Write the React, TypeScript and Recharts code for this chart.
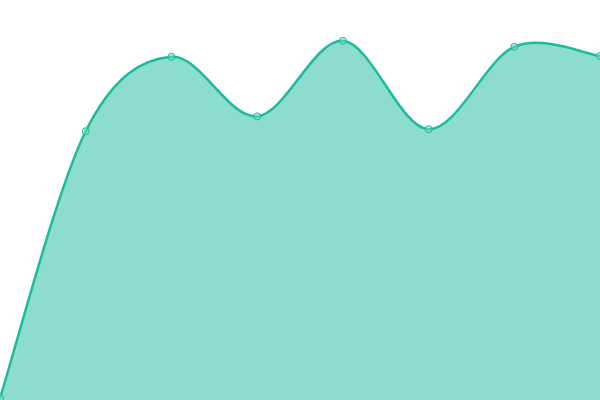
import { AreaChart, Area, XAxis, YAxis } from "recharts";

const categories = ["A", "B", "C", "D", "E", "F", "G", "H"];
const values = [0.5, 67.2, 85.8, 70.9, 89.8, 67.7, 88.3, 86];

const data = categories.map((name, i) => ({ name, value: values[i] }));

// catmull-rom style smoothing (recharts accepts a d3-style curve factory)
function smoothCurve(tension: number) {
  const k = (1 - tension) / 6;
  return (context: any) => {
    let pts: number[][] = [];
    let line = NaN;
    return {
      areaStart() {
        line = 0;
      },
      areaEnd() {
        line = NaN;
      },
      lineStart() {
        pts = [];
      },
      lineEnd() {
        if (pts.length) {
          if (line) context.lineTo(pts[0][0], pts[0][1]);
          else context.moveTo(pts[0][0], pts[0][1]);
          for (let i = 0; i < pts.length - 1; i++) {
            const p0 = pts[i - 1] || pts[i];
            const p1 = pts[i];
            const p2 = pts[i + 1];
            const p3 = pts[i + 2] || pts[i + 1];
            context.bezierCurveTo(
              p1[0] + k * (p2[0] - p0[0]),
              p1[1] + k * (p2[1] - p0[1]),
              p2[0] - k * (p3[0] - p1[0]),
              p2[1] - k * (p3[1] - p1[1]),
              p2[0],
              p2[1]
            );
          }
        }
        if (line || (line !== 0 && pts.length === 1)) context.closePath();
        line = 1 - line;
      },
      point(x: number, y: number) {
        pts.push([+x, +y]);
      },
    };
  };
}

export default function App() {
  return (
    <div style={{ position: "absolute", left: 0, top: 0, width: 600, height: 400 }}>
      <AreaChart width={600} height={400} data={data} margin={{ top: 0, right: 0, bottom: 0, left: 0 }}>
        <XAxis dataKey="name" hide />
        <YAxis hide domain={[0, 100]} />
        <Area
          type={smoothCurve(0) as any}
          dataKey="value"
          stroke="#1abc9c"
          strokeWidth={2.5}
          fill="#1abc9c"
          fillOpacity={0.5}
          dot={{ r: 3.5, fill: "#7ad9c6", stroke: "#1abc9c", strokeWidth: 1 }}
          activeDot={false}
          isAnimationActive={false}
        />
      </AreaChart>
    </div>
  );
}
